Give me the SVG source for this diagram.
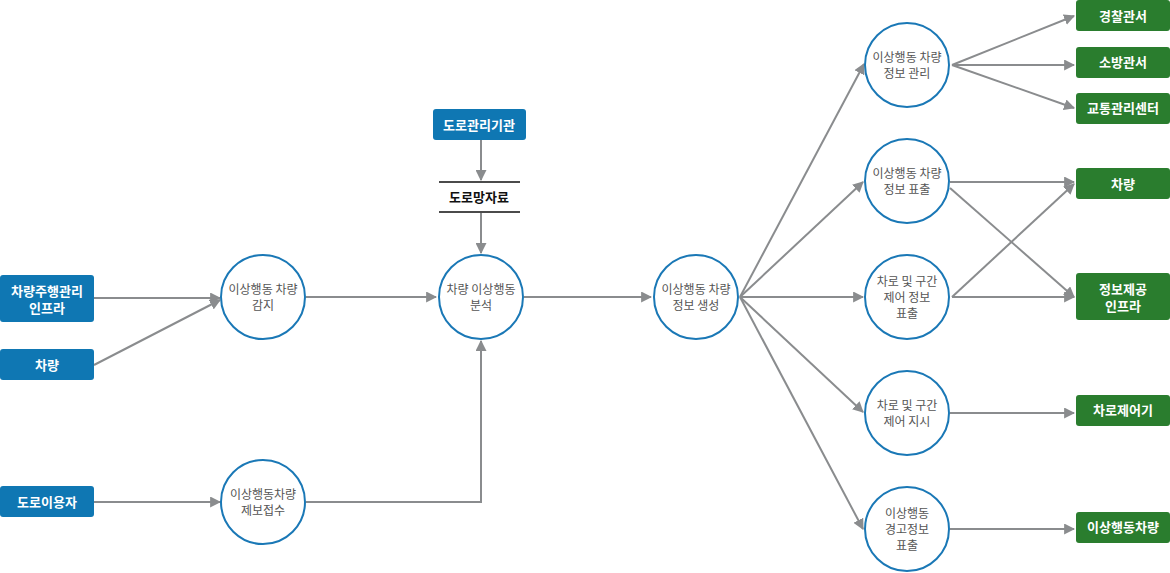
<svg xmlns="http://www.w3.org/2000/svg" width="1170" height="573" viewBox="0 0 1170 573">
<style>
.b{fill:#0f77b3}.g{fill:#2a7d2e}
.bt{font-family:"Noto Sans CJK KR","Noto Sans",sans-serif;font-size:13px;font-weight:bold;fill:#fff;text-anchor:middle}
.c{fill:#fff;stroke:#1a78b6;stroke-width:2}
.ct{font-family:"Noto Sans CJK KR","Noto Sans",sans-serif;font-size:12px;fill:#555;text-anchor:middle}
.l{stroke:#8a8c8e;stroke-width:2;fill:none;marker-end:url(#a)}
</style>
<defs><marker id="a" viewBox="0 0 10 10" refX="9" refY="5" markerWidth="5.5" markerHeight="5.5" orient="auto" markerUnits="strokeWidth"><path d="M0,0L10,5L0,10z" fill="#8a8c8e"/></marker></defs>
<g id="connectors">
<path class="l" d="M94,298H220"/><path class="l" d="M94,365L220,300"/>
<path class="l" d="M306,297H436"/><path class="l" d="M524,297H651"/>
<path class="l" d="M94,502H220"/><path class="l" d="M306,502H481V341"/>
<path class="l" d="M481,140V180"/><path class="l" d="M481,213V253"/>
<path class="l" d="M740,297L864,64"/><path class="l" d="M740,297L863,182"/><path class="l" d="M740,297H863"/><path class="l" d="M740,297L863,412"/><path class="l" d="M740,297L863,529"/>
<path class="l" d="M952,65L1074,16"/><path class="l" d="M952,65H1074"/><path class="l" d="M952,65L1074,108"/>
<path class="l" d="M950,182H1074"/><path class="l" d="M950,188L1074,297"/>
<path class="l" d="M952,297H1074"/><path class="l" d="M952,297L1074,184"/>
<path class="l" d="M950,413H1074"/><path class="l" d="M950,529H1074"/>
</g>
<g id="n1"><rect class="b" x="0" y="275" width="94" height="47" rx="3"/><text class="bt" x="47" y="296">차량주행관리</text><text class="bt" x="47" y="313">인프라</text></g>
<g id="n2"><rect class="b" x="0" y="349" width="94" height="31" rx="3"/><text class="bt" x="47" y="370">차량</text></g>
<g id="n3"><rect class="b" x="0" y="486" width="94" height="31" rx="3"/><text class="bt" x="47" y="507">도로이용자</text></g>
<g id="n4"><rect class="b" x="433" y="109" width="93" height="31" rx="3"/><text class="bt" x="479" y="130">도로관리기관</text></g>
<g id="n5"><path d="M439,182H520M439,212H520" stroke="#111" stroke-width="1.5"/><text class="bt" style="fill:#111" x="479" y="202">도로망자료</text></g>
<g id="c1"><circle class="c" cx="263" cy="297" r="42"/><text class="ct" x="263" y="294">이상행동 차량</text><text class="ct" x="263" y="310">감지</text></g>
<g id="c2"><circle class="c" cx="263" cy="502" r="42"/><text class="ct" x="263" y="499">이상행동차량</text><text class="ct" x="263" y="515">제보접수</text></g>
<g id="c3"><circle class="c" cx="481" cy="297" r="42"/><text class="ct" x="481" y="294">차량 이상행동</text><text class="ct" x="481" y="310">분석</text></g>
<g id="c4"><circle class="c" cx="696" cy="297" r="42"/><text class="ct" x="696" y="294">이상행동 차량</text><text class="ct" x="696" y="310">정보 생성</text></g>
<g id="c5"><circle class="c" cx="907" cy="65" r="42"/><text class="ct" x="907" y="62">이상행동 차량</text><text class="ct" x="907" y="78">정보 관리</text></g>
<g id="c6"><circle class="c" cx="907" cy="181" r="42"/><text class="ct" x="907" y="178">이상행동 차량</text><text class="ct" x="907" y="194">정보 표출</text></g>
<g id="c7"><circle class="c" cx="907" cy="297" r="42"/><text class="ct" x="907" y="286">차로 및 구간</text><text class="ct" x="907" y="302">제어 정보</text><text class="ct" x="907" y="318">표출</text></g>
<g id="c8"><circle class="c" cx="907" cy="413" r="42"/><text class="ct" x="907" y="410">차로 및 구간</text><text class="ct" x="907" y="426">제어 지시</text></g>
<g id="c9"><circle class="c" cx="907" cy="529" r="42"/><text class="ct" x="907" y="518">이상행동</text><text class="ct" x="907" y="534">경고정보</text><text class="ct" x="907" y="550">표출</text></g>
<g id="r1"><rect class="g" x="1076" y="0" width="94" height="31" rx="3"/><text class="bt" x="1123" y="21">경찰관서</text></g>
<g id="r2"><rect class="g" x="1076" y="47" width="94" height="31" rx="3"/><text class="bt" x="1123" y="67">소방관서</text></g>
<g id="r3"><rect class="g" x="1076" y="93" width="94" height="31" rx="3"/><text class="bt" x="1123" y="113">교통관리센터</text></g>
<g id="r4"><rect class="g" x="1076" y="168" width="94" height="31" rx="3"/><text class="bt" x="1123" y="189">차량</text></g>
<g id="r5"><rect class="g" x="1076" y="273" width="94" height="47" rx="3"/><text class="bt" x="1123" y="294">정보제공</text><text class="bt" x="1123" y="311">인프라</text></g>
<g id="r6"><rect class="g" x="1076" y="395" width="94" height="31" rx="3"/><text class="bt" x="1123" y="415">차로제어기</text></g>
<g id="r7"><rect class="g" x="1076" y="512" width="94" height="31" rx="3"/><text class="bt" x="1123" y="532">이상행동차량</text></g>
</svg>
